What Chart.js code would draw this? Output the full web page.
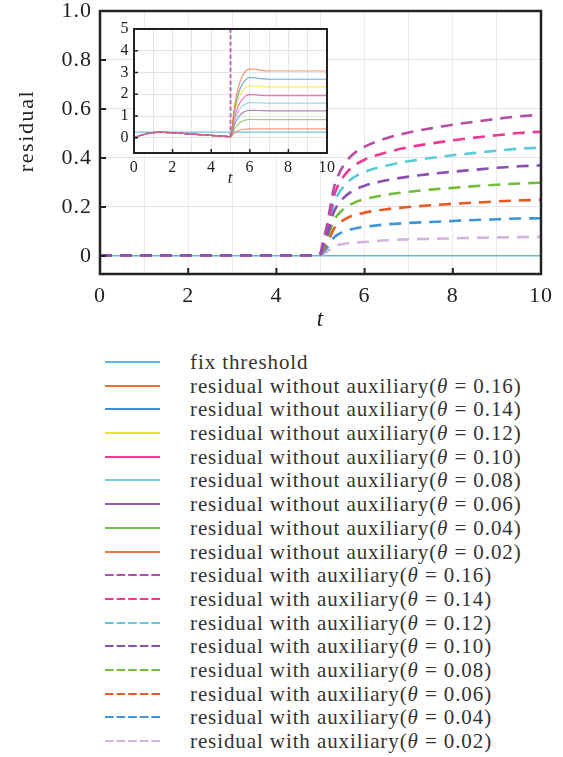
<!DOCTYPE html>
<html>
<head>
<meta charset="utf-8">
<script src="https://cdn.jsdelivr.net/npm/chart.js@4/dist/chart.umd.min.js"></script>
<style>
  html, body { margin: 0; padding: 0; background: #fff; }
  #page { position: relative; width: 563px; height: 757px; overflow: hidden; background: #fff; }
  #mainWrap { position: absolute; left: 0; top: 0; }
  #insetWrap { position: absolute; left: 100px; top: 18px; }
  .lg-text { position: absolute; left: 190px; height: 24px; line-height: 24px; font-family: 'Liberation Serif', 'Times New Roman', serif;
             font-size: 21px; letter-spacing: 0.9px; color: #333; white-space: nowrap; }
  .lg-line { position: absolute; left: 105px; }
</style>
</head>
<body>
<div id="page">
  <div id="mainWrap"><canvas id="mainChart" width="563" height="340"></canvas></div>
  <div id="insetWrap"><canvas id="insetChart" width="237" height="172"></canvas></div>
  <div id="legend"></div>
</div>
<script>
// ---------------- DATA ----------------
const thetaLabels = ['0.16', '0.14', '0.12', '0.10', '0.08', '0.06', '0.04', '0.02'];

// main plot: residual with auxiliary
const tMain = [0, 1, 2, 3, 4, 4.9, 5.0, 5.05, 5.1, 5.15, 5.2, 5.3, 5.4, 5.5, 5.7, 6.0, 6.5, 7.0, 7.5, 8.0, 8.5, 9.0, 9.5, 10];
const withAux016 = [0.003, 0.003, 0.003, 0.003, 0.003, 0.003, 0.012, 0.052, 0.090, 0.127, 0.179, 0.276, 0.328, 0.363, 0.409, 0.446, 0.481, 0.504, 0.521, 0.536, 0.548, 0.560, 0.570, 0.576];
const withAux014 = [0.003, 0.003, 0.003, 0.003, 0.003, 0.003, 0.011, 0.046, 0.079, 0.112, 0.157, 0.243, 0.289, 0.319, 0.360, 0.393, 0.423, 0.444, 0.459, 0.472, 0.483, 0.493, 0.502, 0.507];
const withAux012 = [0.003, 0.003, 0.003, 0.003, 0.003, 0.003, 0.010, 0.040, 0.069, 0.097, 0.137, 0.212, 0.252, 0.278, 0.314, 0.343, 0.369, 0.387, 0.400, 0.411, 0.421, 0.430, 0.438, 0.442];
const withAux010 = [0.003, 0.003, 0.003, 0.003, 0.003, 0.003, 0.009, 0.033, 0.058, 0.081, 0.115, 0.178, 0.211, 0.233, 0.263, 0.287, 0.309, 0.324, 0.335, 0.344, 0.352, 0.360, 0.366, 0.370];
const withAux008 = [0.003, 0.003, 0.003, 0.003, 0.003, 0.003, 0.008, 0.027, 0.047, 0.066, 0.093, 0.144, 0.170, 0.188, 0.212, 0.232, 0.250, 0.262, 0.271, 0.278, 0.285, 0.291, 0.296, 0.299];
const withAux006 = [0.003, 0.003, 0.003, 0.003, 0.003, 0.003, 0.007, 0.021, 0.036, 0.050, 0.071, 0.110, 0.131, 0.144, 0.163, 0.177, 0.191, 0.200, 0.207, 0.213, 0.218, 0.223, 0.227, 0.229];
const withAux004 = [0.003, 0.003, 0.003, 0.003, 0.003, 0.003, 0.006, 0.014, 0.024, 0.034, 0.048, 0.074, 0.088, 0.097, 0.109, 0.119, 0.129, 0.135, 0.139, 0.143, 0.147, 0.150, 0.153, 0.154];
const withAux002 = [0.003, 0.003, 0.003, 0.003, 0.003, 0.003, 0.005, 0.008, 0.013, 0.018, 0.025, 0.038, 0.045, 0.049, 0.054, 0.057, 0.064, 0.068, 0.070, 0.072, 0.074, 0.076, 0.077, 0.078];
const tThresholdMain = [0, 10];
const thresholdMain = [0.001, 0.001];

// inset: residual without auxiliary
const tInset = [0, 0.5, 1, 1.3, 2, 3, 4, 5, 5.2, 5.4, 5.6, 5.8, 6.0, 6.3, 6.6, 7, 8, 9, 10];
const withoutAux016 = [0, 0.15, 0.24, 0.26, 0.23, 0.17, 0.11, 0.05, 1.40, 2.30, 2.80, 3.08, 3.17, 3.15, 3.10, 3.07, 3.07, 3.07, 3.07];
const withoutAux014 = [0, 0.15, 0.24, 0.26, 0.23, 0.17, 0.11, 0.05, 1.22, 2.00, 2.45, 2.68, 2.77, 2.75, 2.72, 2.69, 2.69, 2.69, 2.69];
const withoutAux012 = [0, 0.15, 0.24, 0.26, 0.23, 0.17, 0.11, 0.05, 1.06, 1.74, 2.12, 2.32, 2.39, 2.38, 2.36, 2.34, 2.34, 2.34, 2.34];
const withoutAux010 = [0, 0.15, 0.24, 0.26, 0.23, 0.17, 0.11, 0.05, 0.88, 1.45, 1.76, 1.93, 1.98, 1.97, 1.95, 1.94, 1.94, 1.94, 1.94];
const withoutAux008 = [0, 0.15, 0.24, 0.26, 0.23, 0.17, 0.11, 0.05, 0.73, 1.19, 1.44, 1.57, 1.62, 1.61, 1.60, 1.59, 1.59, 1.59, 1.59];
const withoutAux006 = [0, 0.15, 0.24, 0.26, 0.23, 0.17, 0.11, 0.05, 0.58, 0.93, 1.13, 1.23, 1.26, 1.26, 1.25, 1.24, 1.24, 1.24, 1.24];
const withoutAux004 = [0, 0.15, 0.24, 0.26, 0.23, 0.17, 0.11, 0.05, 0.40, 0.63, 0.76, 0.82, 0.84, 0.84, 0.83, 0.83, 0.83, 0.83, 0.83];
const withoutAux002 = [0, 0.15, 0.24, 0.26, 0.23, 0.17, 0.11, 0.05, 0.22, 0.33, 0.38, 0.40, 0.41, 0.41, 0.41, 0.41, 0.41, 0.41, 0.41];
const tThresholdInset = [0, 10];
const thresholdInset = [0.26, 0.26];
// inset: residual with auxiliary (before the fault, then leaves the panel at t = 5)
const tInsetAux = [0, 0.5, 1, 1.3, 2, 3, 4, 5];
const insetAuxPre = [0, 0.15, 0.24, 0.26, 0.23, 0.17, 0.11, 0.05];
const tInsetAuxJump = [5, 5];
const insetAuxJump = [0.05, 5.6];

// tick labels
const mainXTicks = [0, 2, 4, 6, 8, 10];
const mainYTicks = [0, 0.2, 0.4, 0.6, 0.8, 1.0];
const insetXTicks = [0, 2, 4, 6, 8, 10];
const insetYTicks = [0, 1, 2, 3, 4, 5];

// ---------------- STYLE ----------------
const thresholdColor = '#5DB6E8';
const withoutColors = ['#F26B38', '#3E8ED0', '#F2E32C', '#EC3E95', '#72CDE0', '#8E5CA8', '#70BF48', '#F2774A'];
const withColors = ['#B34FA5', '#EE3A92', '#5CCAD8', '#8A4FB0', '#72BE3C', '#EA5A24', '#3F95DC', '#D4B4DE'];
const SERIF = "'Liberation Serif', 'Times New Roman', serif";
const TEXT = '#222';

const withAuxSeries = [withAux016, withAux014, withAux012, withAux010, withAux008, withAux006, withAux004, withAux002];
const withoutAuxSeries = [withoutAux016, withoutAux014, withoutAux012, withoutAux010, withoutAux008, withoutAux006, withoutAux004, withoutAux002];

function pts(xs, ys) { return xs.map((x, i) => ({ x: x, y: ys[i] })); }
function hexA(hex, a) {
  const n = parseInt(hex.slice(1), 16);
  return `rgba(${(n >> 16) & 255},${(n >> 8) & 255},${n & 255},${a})`;
}

const framePlugin = {
  id: 'frame',
  beforeDraw(chart, args, o) {
    const { ctx, chartArea: a } = chart;
    ctx.letterSpacing = o.spacing || '0px';
    if (o.fill) {
      ctx.save(); ctx.fillStyle = o.fill;
      ctx.fillRect(a.left, a.top, a.right - a.left, a.bottom - a.top);
      ctx.restore();
    }
  },
  afterDraw(chart, args, o) {
    const { ctx, chartArea: a, scales } = chart;
    ctx.save();
    ctx.strokeStyle = TEXT;
    ctx.lineWidth = o.tickWidth;
    ctx.beginPath();
    o.xTicks.forEach(v => { const p = scales.x.getPixelForValue(v); ctx.moveTo(p, a.bottom); ctx.lineTo(p, a.bottom - o.tickLen); });
    o.yTicks.forEach(v => { const p = scales.y.getPixelForValue(v); ctx.moveTo(a.left, p); ctx.lineTo(a.left + o.tickLen, p); });
    ctx.stroke();
    ctx.lineWidth = o.borderWidth;
    ctx.strokeRect(a.left, a.top, a.right - a.left, a.bottom - a.top);
    if (o.yTitle) {
      ctx.translate(o.yTitle.x, o.yTitle.y);
      ctx.rotate(-Math.PI / 2);
      ctx.letterSpacing = o.yTitle.spacing;
      ctx.font = o.yTitle.font;
      ctx.fillStyle = TEXT;
      ctx.textAlign = 'center';
      ctx.textBaseline = 'alphabetic';
      ctx.fillText(o.yTitle.text, 0, 0);
    }
    ctx.restore();
  }
};

// ---------------- MAIN CHART ----------------
const mainDatasets = [];
withAuxSeries.forEach((s, i) => {
  mainDatasets.push({
    label: 'residual with auxiliary(θ = ' + thetaLabels[i] + ')',
    data: pts(tMain, s),
    borderColor: withColors[i],
    borderWidth: 2.6,
    borderDash: [12, 8],
    pointRadius: 0,
    fill: false,
    cubicInterpolationMode: 'monotone',
    order: i === 3 ? -1 : 0
  });
});
mainDatasets.push({
  label: 'fix threshold',
  data: pts(tThresholdMain, thresholdMain),
  borderColor: thresholdColor,
  borderWidth: 1.5,
  pointRadius: 0,
  fill: false,
  order: 1
});

new Chart(document.getElementById('mainChart'), {
  type: 'line',
  data: { datasets: mainDatasets },
  options: {
    responsive: false,
    animation: false,
    layout: { padding: { top: 11, right: 22, bottom: 0, left: 0 } },
    plugins: {
      legend: { display: false },
      tooltip: { enabled: false },
      frame: {
        spacing: '1px', tickLen: 6, tickWidth: 2, borderWidth: 2.5,
        xTicks: mainXTicks, yTicks: mainYTicks,
        yTitle: { text: 'residual', x: 33, y: 131, font: '22px ' + SERIF, spacing: '1.6px' }
      }
    },
    scales: {
      x: {
        type: 'linear', min: 0, max: 10,
        border: { display: false },
        grid: { color: '#ebebeb', lineWidth: 1, drawTicks: false },
        ticks: {
          stepSize: 1, autoSkip: false, maxRotation: 0, padding: 9,
          color: TEXT, font: { family: SERIF, size: 22 },
          callback: v => (mainXTicks.includes(v) ? String(v) : '')
        },
        title: { display: true, text: 't', color: TEXT, font: { family: SERIF, size: 23, style: 'italic', lineHeight: 1.2 }, padding: { top: 0, bottom: 6 } },
        afterFit: s => { s.height = 66; s.paddingLeft = 0; s.paddingRight = 0; }
      },
      y: {
        type: 'linear', min: -0.0735, max: 1.0,
        border: { display: false },
        grid: { color: '#e3e3e3', lineWidth: 1, drawTicks: false },
        ticks: {
          stepSize: 0.2, includeBounds: false, padding: 8,
          color: TEXT, font: { family: SERIF, size: 22 },
          callback: v => (Math.abs(v) < 1e-9 ? '0' : v.toFixed(1))
        },
        afterFit: s => { s.width = 100; s.paddingTop = 0; s.paddingBottom = 0; }
      }
    }
  },
  plugins: [framePlugin]
});

// ---------------- INSET CHART ----------------
const insetDatasets = [];
insetDatasets.push({
  label: 'residual with auxiliary',
  data: pts(tInsetAux, insetAuxPre),
  borderColor: '#D54FA8',
  borderWidth: 1.6,
  borderDash: [4, 2.5],
  pointRadius: 0,
  cubicInterpolationMode: 'monotone',
  order: -2
});
insetDatasets.push({
  label: 'residual with auxiliary (jump)',
  data: pts(tInsetAuxJump, insetAuxJump),
  borderColor: '#C462B8',
  borderWidth: 2,
  borderDash: [4, 2.5],
  pointRadius: 0,
  tension: 0,
  order: -2
});
withoutAuxSeries.forEach((s, i) => {
  insetDatasets.push({
    label: 'residual without auxiliary(θ = ' + thetaLabels[i] + ')',
    data: pts(tInset, s),
    borderColor: hexA(withoutColors[i], 0.72),
    borderWidth: 1.2,
    pointRadius: 0,
    cubicInterpolationMode: 'monotone',
    order: 0
  });
});
insetDatasets.push({
  label: 'fix threshold',
  data: pts(tThresholdInset, thresholdInset),
  borderColor: hexA(thresholdColor, 0.9),
  borderWidth: 1.2,
  pointRadius: 0,
  order: 1
});

new Chart(document.getElementById('insetChart'), {
  type: 'line',
  data: { datasets: insetDatasets },
  options: {
    responsive: false,
    animation: false,
    layout: { padding: { top: 11, right: 10, bottom: 0, left: 0 } },
    plugins: {
      legend: { display: false },
      tooltip: { enabled: false },
      frame: {
        spacing: '0.6px', fill: '#ffffff', tickLen: 4, tickWidth: 1.5, borderWidth: 2,
        xTicks: insetXTicks, yTicks: insetYTicks
      }
    },
    scales: {
      x: {
        type: 'linear', min: 0, max: 10,
        border: { display: false },
        grid: { color: '#e4e4e4', lineWidth: 1, drawTicks: false },
        ticks: {
          stepSize: 1, autoSkip: false, maxRotation: 0, padding: 5,
          color: TEXT, font: { family: SERIF, size: 16 },
          callback: v => (insetXTicks.includes(v) ? String(v) : '')
        },
        title: { display: true, text: 't', color: TEXT, font: { family: SERIF, size: 17, style: 'italic', lineHeight: 1 }, padding: { top: 0, bottom: 3 } },
        afterFit: s => { s.height = 37; s.paddingLeft = 0; s.paddingRight = 0; }
      },
      y: {
        type: 'linear', min: -0.7, max: 5,
        border: { display: false },
        grid: { color: '#e4e4e4', lineWidth: 1, drawTicks: false },
        ticks: {
          stepSize: 1, includeBounds: false, padding: 5,
          color: TEXT, font: { family: SERIF, size: 16 },
          callback: v => String(v)
        },
        afterFit: s => { s.width = 34; s.paddingTop = 0; s.paddingBottom = 0; }
      }
    }
  },
  plugins: [framePlugin]
});

// ---------------- LEGEND ----------------
const legendEntries = [{ text: 'fix threshold', color: thresholdColor, dash: null }];
thetaLabels.forEach((th, i) => legendEntries.push({ text: 'residual without auxiliary(<i>θ</i> = ' + th + ')', color: withoutColors[i], dash: null }));
thetaLabels.forEach((th, i) => legendEntries.push({ text: 'residual with auxiliary(<i>θ</i> = ' + th + ')', color: withColors[i], dash: '8.6 3' }));

const legend = document.getElementById('legend');
legendEntries.forEach((e, i) => {
  const cy = 362 + i * 23.69;
  const svgNS = 'http://www.w3.org/2000/svg';
  const svg = document.createElementNS(svgNS, 'svg');
  svg.setAttribute('width', '56'); svg.setAttribute('height', '6');
  svg.setAttribute('class', 'lg-line');
  svg.style.top = (cy - 3) + 'px';
  const ln = document.createElementNS(svgNS, 'line');
  ln.setAttribute('x1', '0'); ln.setAttribute('y1', '3');
  ln.setAttribute('x2', '55'); ln.setAttribute('y2', '3');
  ln.setAttribute('stroke', e.color); ln.setAttribute('stroke-width', '2');
  if (e.dash) ln.setAttribute('stroke-dasharray', e.dash);
  svg.appendChild(ln);
  legend.appendChild(svg);
  const d = document.createElement('div');
  d.className = 'lg-text';
  d.style.top = (cy - 12) + 'px';
  d.innerHTML = e.text;
  legend.appendChild(d);
});
</script>
</body>
</html>
